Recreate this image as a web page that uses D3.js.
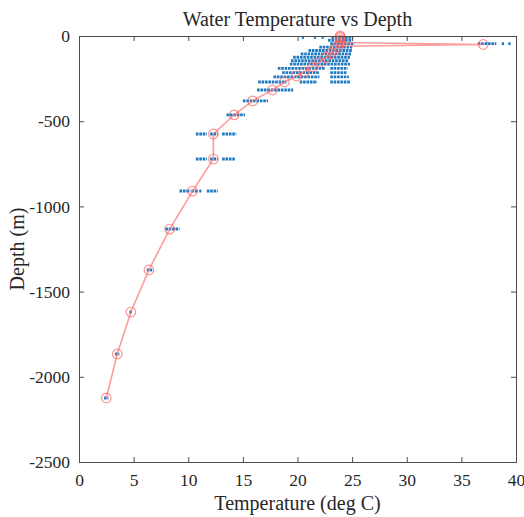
<!DOCTYPE html>
<html>
<head>
<meta charset="utf-8">
<script src="https://cdn.jsdelivr.net/npm/d3@7"></script>
<style>
  html, body { margin: 0; padding: 0; background: #fff; }
  svg { display: block; }
  text { font-family: "Liberation Serif", "DejaVu Serif", serif; fill: #262626; }
</style>
</head>
<body>
<svg id="chart" width="524" height="517"></svg>
<script>
// ---- data ----
const titleText = "Water Temperature vs Depth";
const xLabel = "Temperature (deg C)";
const yLabel = "Depth (m)";
const xTicks = [0, 5, 10, 15, 20, 25, 30, 35, 40];
const yTicks = [0, -500, -1000, -1500, -2000, -2500];

// mean profile (red line with circles)
const meanTemp  = [23.9, 23.9, 23.9, 23.9, 23.9, 37.0, 23.7, 23.4, 23.1, 22.6, 22.0, 21.4, 20.6, 19.9, 18.8, 17.7, 15.9, 14.2, 12.3, 12.3, 10.4, 8.3, 6.4, 4.75, 3.5, 2.5];
const meanDepth = [0, -5, -15, -25, -38, -50, -60, -80, -100, -125, -155, -180, -210, -235, -270, -317, -381, -463, -575, -722, -910, -1133, -1373, -1620, -1866, -2124];

// all observations (blue dots), grouped as runs of dots: depth, from temp, to temp
const obsDepth = [-8, -8, -8, -8, -25, -45, -45, -45, -45, -65, -85, -105, -125, -145, -165, -190, -190, -215, -215, -240, -240, -270, -270, -270, -317, -381, -463, -575, -575, -575, -722, -722, -722, -910, -910, -910, -910, -1133, -1373, -1620, -1866, -2124];
const obsFrom  = [20.4, 21.5, 22.2, 23.1, 22.8, 23.0, 36.5, 38.7, 39.3, 22.0, 21.0, 20.3, 19.6, 19.4, 19.3, 18.2, 23.0, 18.6, 23.0, 17.8, 23.0, 16.4, 20.2, 23.0, 16.3, 15.0, 13.5, 10.7, 12.0, 13.1, 10.7, 12.0, 13.1, 9.2, 10.3, 11.0, 11.7, 7.9, 6.2, 4.6, 3.3, 2.3];
const obsTo    = [20.6, 21.7, 22.4, 25.1, 25.0, 25.2, 38.2, 38.9, 39.5, 25.0, 25.0, 24.9, 24.8, 24.7, 24.8, 22.5, 24.6, 22.0, 24.5, 22.0, 24.7, 19.0, 21.8, 24.8, 19.6, 17.3, 15.2, 11.7, 12.7, 14.4, 11.7, 12.7, 14.3, 10.2, 10.9, 11.2, 12.7, 9.2, 6.7, 4.9, 3.7, 2.7];

// ---- layout ----
const svg = d3.select("#chart");
const mLeft = 79, mRight = 516, mTop = 36, mBottom = 462;

const x = d3.scaleLinear().domain([0, 40]).range([mLeft, mRight]);
const y = d3.scaleLinear().domain([-2500, 0]).range([mBottom, mTop]);

const axisColor = "#4d4d4d";

// blue observations
const obs = obsDepth.map((d, i) => ({ d, t0: obsFrom[i], t1: obsTo[i] }));
svg.append("g").selectAll("line").data(obs).join("line")
  .attr("x1", o => x(o.t0)).attr("x2", o => x(o.t1))
  .attr("y1", o => y(o.d)).attr("y2", o => y(o.d))
  .attr("stroke", "#0a6fbd")
  .attr("stroke-width", 2.9)
  .attr("stroke-dasharray", "2.6,0.8")
  .attr("opacity", 0.92);

// red mean line
const mean = meanTemp.map((t, i) => ({ t, d: meanDepth[i] }));
svg.append("path").datum(mean)
  .attr("fill", "none")
  .attr("stroke", "#ff7070")
  .attr("stroke-opacity", 0.7)
  .attr("stroke-width", 1.6)
  .attr("d", d3.line().x(p => x(p.t)).y(p => y(p.d)));
svg.append("g").selectAll("circle").data(mean).join("circle")
  .attr("cx", p => x(p.t)).attr("cy", p => y(p.d)).attr("r", 4.8)
  .attr("fill", "none")
  .attr("stroke", "#ff5a5a")
  .attr("stroke-opacity", 0.65)
  .attr("stroke-width", 1.2);

// axes (box with inward ticks)
const tickLen = 5;
const xAxisB = d3.axisBottom(x).tickValues(xTicks).tickSize(-tickLen).tickPadding(12).tickFormat(d3.format("d"));
const xAxisT = d3.axisTop(x).tickValues(xTicks).tickSize(-tickLen).tickFormat("");
const yAxisL = d3.axisLeft(y).tickValues(yTicks).tickSize(-tickLen).tickPadding(9).tickFormat(d => d === 0 ? "0" : "-" + Math.abs(d));
const yAxisR = d3.axisRight(y).tickValues(yTicks).tickSize(-tickLen).tickFormat("");

function style(g) {
  g.select(".domain").attr("stroke", axisColor).attr("stroke-width", 1);
  g.selectAll(".tick line").attr("stroke", axisColor);
  g.selectAll(".tick text").attr("fill", "#262626").style("font-size", "17.5px")
    .style("font-family", '"Liberation Serif", "DejaVu Serif", serif');
}
svg.append("g").attr("transform", `translate(0,${mBottom})`).call(xAxisB).call(style);
svg.append("g").attr("transform", `translate(0,${mTop})`).call(xAxisT).call(style);
svg.append("g").attr("transform", `translate(${mLeft},0)`).call(yAxisL).call(style);
svg.append("g").attr("transform", `translate(${mRight},0)`).call(yAxisR).call(style);

// title and labels
svg.append("text").attr("x", (mLeft + mRight) / 2).attr("y", 26)
  .attr("text-anchor", "middle").style("font-size", "20px").text(titleText);
svg.append("text").attr("x", (mLeft + mRight) / 2).attr("y", 510)
  .attr("text-anchor", "middle").style("font-size", "20px").text(xLabel);
svg.append("text").attr("transform", `translate(24,${(mTop + mBottom) / 2}) rotate(-90)`)
  .attr("text-anchor", "middle").style("font-size", "20px").text(yLabel);
</script>
</body>
</html>
